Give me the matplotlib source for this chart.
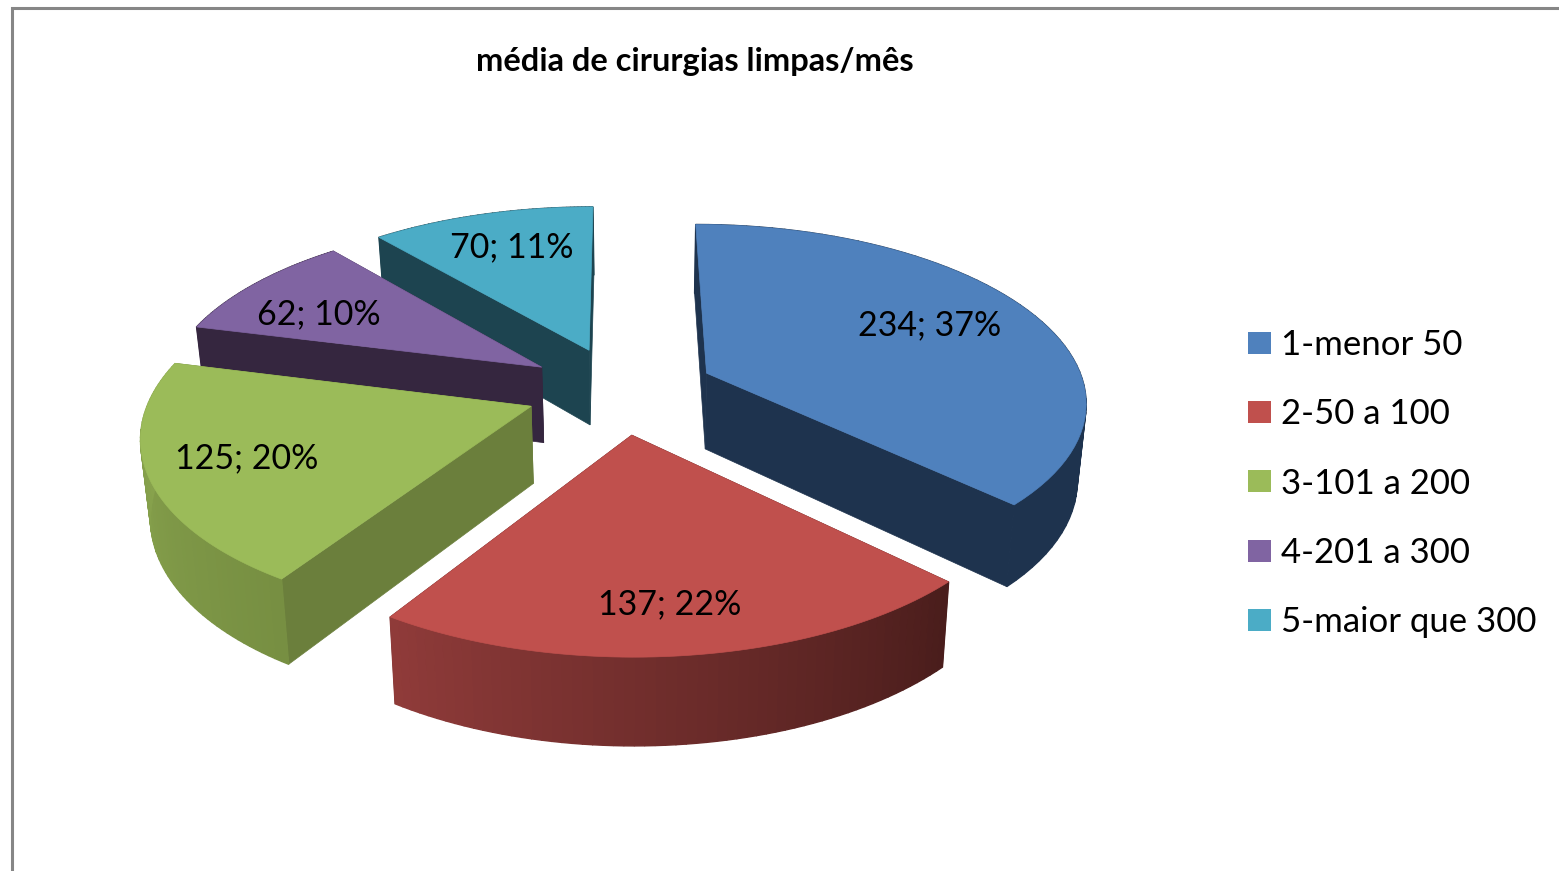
import numpy as np
import matplotlib
matplotlib.use('Agg')
import matplotlib.pyplot as plt
from matplotlib.patches import Polygon, Patch
from matplotlib.colors import to_rgb

plt.rcParams['font.family'] = ['Lato', 'DejaVu Sans']

# data
categories = ['1-menor 50', '2-50 a 100', '3-101 a 200', '4-201 a 300', '5-maior que 300']
values = [234, 137, 125, 62, 70]
title = 'média de cirurgias limpas/mês'

# colours
top_colors = ['#4F81BD', '#C0504D', '#9BBB59', '#8064A2', '#4BACC6']
side_colors = ['#1E334E', '#4A1D1C', '#6B7F3C', '#35263F', '#1D4450']
# outer wall gradient, first angle to last angle of the slice
rim_start = ['#1E334E', '#4A1D1C', '#778F42', '#35263F', '#1D4450']
rim_end = ['#1E334E', '#8F3B39', '#8CA850', '#35263F', '#1D4450']
# where the label sits in a slice, fraction of the radius (x, y)
label_frac = [(0.639, 0.718), (0.87, 0.967), (0.806, 0.79), (0.694, 0.578), (0.594, 0.632)]

# 3d look, all in picture pixels
cx, cy = 620.5, 390
rx, ry = 379, 175
explode = 0.25
persp = 0.146
W, H = 1559, 871


def project(u, v):
    s = 1 / (1 - persp * v)
    return cx + rx * u * s, cy + ry * v * s, s


def drop(x, y, s):
    # same point on the underside of the slice
    return 640 + (x - 640) * 0.98, y + 21.5 + 55 * s


fig = plt.figure(figsize=(W / 100, H / 100), dpi=100)
ax = fig.add_axes([0, 0, 1, 1])
ax.set_xlim(0, W)
ax.set_ylim(H, 0)
ax.axis('off')

# chart border
ax.plot([12, 12, W], [H, 8, 8], color='#868686', lw=2.2, solid_joinstyle='miter')

total = sum(values)
edges = np.cumsum([0] + values) / total * 2 * np.pi

# back slices first, the front ones cover them
for i in [4, 3, 2, 0, 1]:
    a0, a1 = edges[i], edges[i + 1]
    mid = (a0 + a1) / 2
    mu, mv = np.sin(mid), -np.cos(mid)
    ax0, ay0, as0 = project(explode * mu, explode * mv)

    angs = np.linspace(a0, a1, 61)
    xs, ys, ss = project(explode * mu + np.sin(angs), explode * mv - np.cos(angs))
    bx, by = drop(xs, ys, ss)
    apx, apy = drop(ax0, ay0, as0)

    side = side_colors[i]
    for j in [0, -1]:
        quad = [(ax0, ay0), (xs[j], ys[j]), (bx[j], by[j]), (apx, apy)]
        ax.add_patch(Polygon(quad, fc=side, ec=side, lw=0.5))

    c0 = np.array(to_rgb(rim_start[i]))
    c1 = np.array(to_rgb(rim_end[i]))
    for j in range(len(angs) - 1):
        t = j / (len(angs) - 2)
        col = c0 + (c1 - c0) * t
        quad = [(xs[j], ys[j]), (xs[j + 1], ys[j + 1]), (bx[j + 1], by[j + 1]), (bx[j], by[j])]
        ax.add_patch(Polygon(quad, fc=col, ec=col, lw=1.0))

    top = np.column_stack([np.r_[ax0, xs], np.r_[ay0, ys]])
    ax.add_patch(Polygon(top, fc=top_colors[i], ec=top_colors[i], lw=0.5))

    fx, fy = label_frac[i]
    ax.text(ax0 + rx * fx * mu, ay0 + ry * fy * mv + 1,
            f'{values[i]}; {round(100 * values[i] / total)}%',
            fontsize=24.5, ha='center', va='center', color='black')

ax.text(695, 62, title, fontsize=23.5, fontweight='bold', ha='center', va='center', color='black')

handles = [Patch(fc=c, ec=c, lw=0) for c in top_colors]
ax.legend(handles, categories, loc='upper left', bbox_to_anchor=(1248, 329),
          bbox_transform=ax.transData, frameon=False, fontsize=25, borderpad=0,
          borderaxespad=0, handlelength=0.66, handleheight=0.6, handletextpad=0.3,
          labelspacing=1.075, labelcolor='black')

fig.savefig('out.png', dpi=100)
